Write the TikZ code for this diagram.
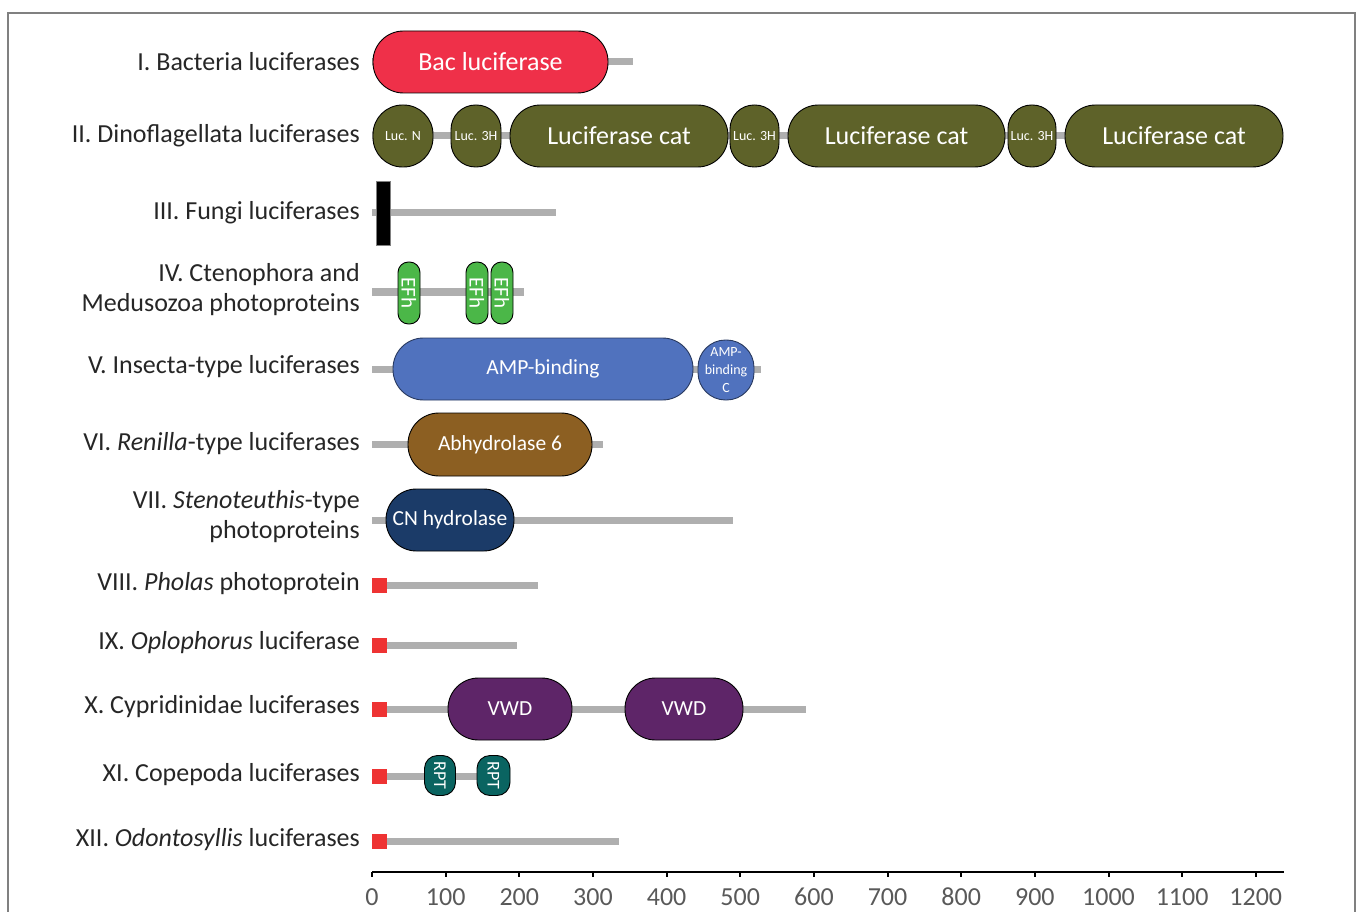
\documentclass[tikz,border=0pt]{standalone}
\usepackage{fontspec}
\setmainfont{Carlito}

\definecolor{bacred}{HTML}{EF3049}
\definecolor{dinool}{HTML}{5E6229}
\definecolor{efgreen}{HTML}{4BB748}
\definecolor{ampblue}{HTML}{5072BE}
\definecolor{abhbrown}{HTML}{8C5F22}
\definecolor{cnnavy}{HTML}{1B3B68}
\definecolor{vwdpurple}{HTML}{5E2568}
\definecolor{rptteal}{HTML}{0A6461}
\definecolor{sigred}{HTML}{EE3333}
\definecolor{bbgray}{HTML}{AFAFAF}
\definecolor{tickgray}{HTML}{595959}

\tikzset{
  dom/.style={draw=black, line width=0.9pt, inner sep=0pt, text=white,
    font=\fontsize{21.5}{24}\selectfont},
  bigdom/.style={dom, font=\fontsize{26}{28}\selectfont},
  smalldom/.style={dom, font=\fontsize{14}{18}\selectfont},
  bb/.style={draw=bbgray, line width=7pt},
  sig/.style={fill=sigred, inner sep=0pt, minimum size=15pt},
  famlab/.style={anchor=east, align=right, inner sep=0pt, text=black!85,
    font=\fontsize{26}{30}\selectfont},
  ticklab/.style={text=tickgray, font=\fontsize{26}{28}\selectfont},
  axis/.style={draw=black, line width=2pt},
}

\begin{document}
\begin{tikzpicture}[x=1pt, y=-1pt]

\clip (0,0) rectangle (1358,912);
\draw[gray, line width=1.5pt] (8,13) rectangle (1355,930);

% I
\node[famlab] (lab1) at (360,62) {I. Bacteria luciferases};
\draw[bb] (372,62) -- (633,62);
\node[bigdom, fill=bacred, minimum width=235, minimum height=62, rounded corners=30.5] (bac) at (490.5,62) {Bac luciferase};

% II
\node[famlab] (lab2) at (360,136) {II. Dinoflagellata luciferases};
\draw[bb] (372,136) -- (1283,136);
\node[smalldom, fill=dinool, minimum width=60, minimum height=62, rounded corners=29.5] (lucN) at (403,136) {Luc. N};
\node[smalldom, fill=dinool, minimum width=50, minimum height=62, rounded corners=24.5] (lh1) at (476,136) {Luc. 3H};
\node[bigdom, fill=dinool, minimum width=218, minimum height=62, rounded corners=30.5] (cat1) at (619,136) {Luciferase cat};
\node[smalldom, fill=dinool, minimum width=49, minimum height=62, rounded corners=24] (lh2) at (754.5,136) {Luc. 3H};
\node[bigdom, fill=dinool, minimum width=217, minimum height=62, rounded corners=30.5] (cat2) at (896.5,136) {Luciferase cat};
\node[smalldom, fill=dinool, minimum width=48, minimum height=62, rounded corners=23.5] (lh3) at (1032,136) {Luc. 3H};
\node[bigdom, fill=dinool, minimum width=218, minimum height=62, rounded corners=30.5] (cat3) at (1174,136) {Luciferase cat};

% III
\node[famlab] (lab3) at (360,213) {III. Fungi luciferases};
\draw[bb] (372,213) -- (556,213);
\node[draw=gray, fill=black, inner sep=0pt, minimum width=14, minimum height=64] (fun) at (383,213) {};

% IV
\node[famlab] (lab4) at (360,290) {IV. Ctenophora and\\Medusozoa photoproteins};
\draw[bb] (372,292) -- (524,292);
\foreach \i/\x in {1/409, 2/477, 3/502}
  \node[dom, fill=efgreen, rotate=-90, minimum width=62, minimum height=22, rounded corners=10.5,
    font=\fontsize{21}{22}\selectfont] (efh\i) at (\x,293) {EFh};

% V
\node[famlab] (lab5) at (360,367) {V. Insecta-type luciferases};
\draw[bb] (372,369) -- (761,369);
\node[dom, fill=ampblue, draw=ampblue!50!black, minimum width=300, minimum height=62, rounded corners=30.5] (amp) at (543,369) {AMP-binding};
\node[smalldom, fill=ampblue, draw=ampblue!50!black, align=center, minimum width=56, minimum height=60, rounded corners=27.5] (ampc) at (726,370) {AMP-\\binding\\C};

% VI
\node[famlab] (lab6) at (360,444) {VI. \textit{Renilla}-type luciferases};
\draw[bb] (372,444) -- (603,444);
\node[dom, fill=abhbrown, minimum width=184, minimum height=63, rounded corners=31] (abh) at (500,444.5) {Abhydrolase 6};

% VII
\node[famlab] (lab7) at (360,517) {VII. \textit{Stenoteuthis}-type\\photoproteins};
\draw[bb] (372,520) -- (733,520);
\node[dom, fill=cnnavy, minimum width=128, minimum height=62, rounded corners=30.5] (cnh) at (450,520) {CN hydrolase};

% VIII
\node[famlab] (lab8) at (360,584) {VIII. \textit{Pholas} photoprotein};
\draw[bb] (372,585) -- (538,585);
\node[sig] (sp8) at (379.5,585) {};

% IX
\node[famlab] (lab9) at (360,643) {IX. \textit{Oplophorus} luciferase};
\draw[bb] (372,645) -- (517,645);
\node[sig] (sp9) at (379.5,645) {};

% X
\node[famlab] (lab10) at (360,707) {X. Cypridinidae luciferases};
\draw[bb] (372,709) -- (806,709);
\node[sig] (sp10) at (379.5,709) {};
\node[dom, fill=vwdpurple, minimum width=124, minimum height=62, rounded corners=30.5] (vwd1) at (510,709) {VWD};
\node[dom, fill=vwdpurple, minimum width=118, minimum height=62, rounded corners=30.5] (vwd2) at (684,709) {VWD};

% XI
\node[famlab] (lab11) at (360,775) {XI. Copepoda luciferases};
\draw[bb] (372,776) -- (500,776);
\node[sig] (sp11) at (379.5,776) {};
\foreach \i/\x/\w in {1/440/31, 2/493.5/33}
  \node[dom, fill=rptteal, rotate=-90, minimum width=40, minimum height=\w, rounded corners=13,
    font=\fontsize{18}{20}\selectfont] (rpt\i) at (\x,775.5) {RPT};

% XII
\node[famlab] (lab12) at (360,840) {XII. \textit{Odontosyllis} luciferases};
\draw[bb] (372,841) -- (619,841);
\node[sig] (sp12) at (379.5,841) {};

% axis
\draw[axis] (372,872) -- (1284,872);
\foreach \t in {0,100,...,1200} {
  \draw[axis] (372+0.7365*\t,872) -- ++(0,5);
  \node[ticklab] (t\t) at (372+0.7365*\t,897) {\t};
}

\end{tikzpicture}
\end{document}
